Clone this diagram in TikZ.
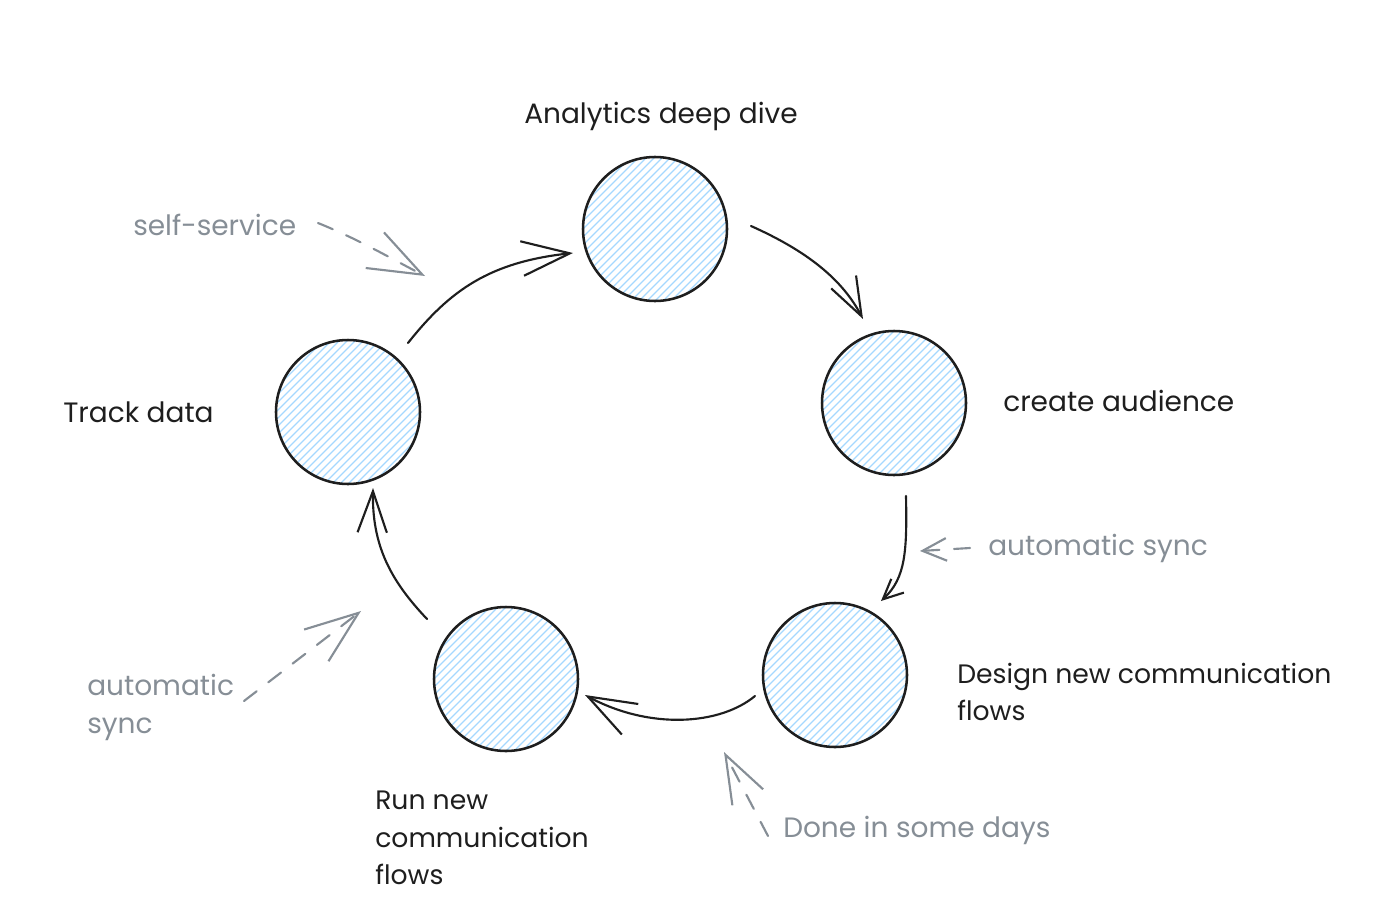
\documentclass[tikz,border=0pt]{standalone}
\usepackage{fontspec}
\setmainfont{Poppins}
\usetikzlibrary{arrows.meta}
\definecolor{ink}{HTML}{1E1E1E}
\definecolor{note}{HTML}{868E96}
\definecolor{hatch}{HTML}{A5D8FF}
\tikzset{
  stage/.style={circle, draw=ink, line width=1.9pt, minimum size=108pt, inner sep=0pt,
    path picture={
      \foreach \k in {-14,...,14}{
        \draw[hatch, line width=1pt]
          ([shift={(\k*6pt,0pt)}]path picture bounding box.center) ++(-70pt,-70pt) -- ++(140pt,140pt);
      }
    }},
  label/.style={text=ink, font=\fontsize{21}{28}\selectfont, align=left, inner sep=0pt},
  smalllabel/.style={label, font=\fontsize{20}{28}\selectfont},
  notelabel/.style={text=note, font=\fontsize{21}{28.5}\selectfont, align=left, inner sep=0pt},
  flow/.style={draw=ink, line width=1.6pt, line cap=round, line join=round},
  noteflow/.style={draw=note, line width=1.6pt, line cap=round, line join=round, dash pattern=on 12pt off 11pt},
}
\begin{document}
\begin{tikzpicture}[x=0.75pt,y=-0.75pt]
\useasboundingbox (0,0) rectangle (1388,910);

% stages
\node[stage] (top) at (655,229) {};
\node[stage] (right) at (894,403) {};
\node[stage] (bright) at (835,675) {};
\node[stage] (bleft) at (506,679) {};
\node[stage] (left) at (348,412) {};

% labels
\node[label] (ltop) at (661,116) {Analytics deep dive};
\node[label, anchor=west] (lleft) at (63,412) {Track data};
\node[label, anchor=west] (lright) at (1003,401) {create audience};
\node[smalllabel, anchor=west] (lbright) at (957,692) {Design new communication\\flows};
\node[smalllabel, anchor=west] (lbleft) at (375,838) {Run new\\communication\\flows};

% notes
\node[notelabel, anchor=west] (nself) at (133,225) {self-service};
\node[notelabel, anchor=west] (nsync) at (988,548) {automatic sync};
\node[notelabel, anchor=west] (nsync2) at (87,707) {automatic\\sync};
\node[notelabel, anchor=west] (ndone) at (783,830) {Done in some days};

% connector end points
\coordinate (a1s) at (408,343); \coordinate (a1e) at (573,253);
\coordinate (a2s) at (751,226); \coordinate (a2e) at (863,319);
\coordinate (a3s) at (906,496); \coordinate (a3e) at (881,601);
\coordinate (a4s) at (755,696); \coordinate (a4e) at (585,695);
\coordinate (a5s) at (427,619); \coordinate (a5e) at (373,488);

\coordinate (n1s) at (318,223); \coordinate (n1e) at (425,276);
\coordinate (n2s) at (970,548); \coordinate (n2e) at (920,551);
\coordinate (n3s) at (244,701); \coordinate (n3e) at (361,611);
\coordinate (n4s) at (768,836); \coordinate (n4e) at (724,752);

% cycle arrows
\draw[flow, -{Straight Barb[length=36pt,width=26pt]}] (a1s) .. controls (450,290) and (490,262) .. (a1e);
\draw[flow, -{Straight Barb[length=29pt,width=21pt]}] (a2s) .. controls (800,248) and (840,275) .. (a2e);
\draw[flow, -{Straight Barb[length=15pt,width=14pt]}] (a3s) .. controls (907,550) and (906,578) .. (a3e);
\draw[flow, -{Straight Barb[length=36pt,width=26pt]}] (a4s) .. controls (720,725) and (650,730) .. (a4e);
\draw[flow, -{Straight Barb[length=31pt,width=22pt]}] (a5s) .. controls (390,580) and (372,545) .. (a5e);

% note arrows
\draw[noteflow, -{Straight Barb[length=40pt,width=30pt]}] (n1s) .. controls (360,240) and (390,258) .. (n1e);
\draw[noteflow, -{Straight Barb[length=18pt,width=17pt]}] (n2s) -- (n2e);
\draw[noteflow, -{Straight Barb[length=40pt,width=30pt]}] (n3s) -- (n3e);
\draw[noteflow, -{Straight Barb[length=36pt,width=26pt]}] (n4s) -- (n4e);
\end{tikzpicture}
\end{document}
